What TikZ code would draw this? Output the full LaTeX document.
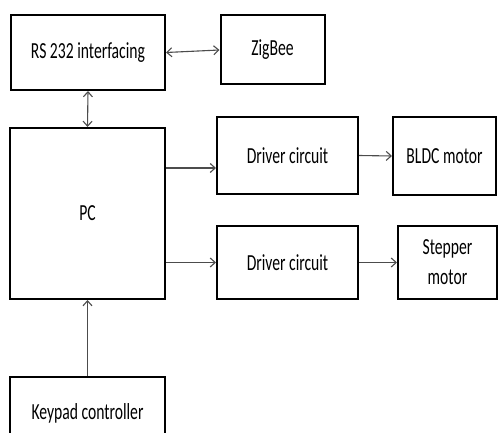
\documentclass[tikz,border=0pt]{standalone}
\usepackage{fontspec}
\setmainfont{Carlito}[FakeStretch=0.68]
\usepackage{tikz}
\usepackage{xcolor}
\usetikzlibrary{arrows.meta, positioning, calc}

\begin{document}
\begin{tikzpicture}[x=1pt, y=-1pt,
    block/.style={draw=black, line width=2pt, fill=white, inner sep=0pt, align=center,
        font=\fontsize{23}{30}\selectfont},
    link/.style={draw=black!70, line width=1.1pt, -{Straight Barb[length=5pt, width=9pt]}},
    duplex/.style={link, {Straight Barb[length=5pt, width=9pt]}-{Straight Barb[length=5pt, width=9pt]}}]
    \useasboundingbox (0,0) rectangle (498,433);
    \clip (0,0) rectangle (498,433);

    % Interface part
    \node[block, minimum width=154pt, minimum height=75pt] (rs) at (88, 52.5) {RS 232 interfacing};
    \node[block, minimum width=104pt, minimum height=69pt] (zig) at (272.5, 50) {ZigBee};

    % Main computer
    \node[block, minimum width=155pt, minimum height=171pt] (pc) at (87.5, 213.5) {PC};

    % Motor drive chains
    \node[block, minimum width=141pt, minimum height=77pt] (drv1) at (287.5, 155.5) {Driver circuit};
    \node[block, minimum width=103pt, minimum height=78pt] (bldc) at (444.5, 156) {BLDC motor};
    \node[block, minimum width=141pt, minimum height=73pt] (drv2) at (287.5, 262.5) {Driver circuit};
    \node[block, minimum width=99pt, minimum height=73pt] (step) at (447.5, 262.5) {Stepper\\motor};

    % Keypad (runs off the bottom)
    \node[block, minimum width=155pt, minimum height=72pt] (key) at (87.5, 413) {Keypad controller};

    % Connections
    \draw[duplex] (rs.east) -- (zig.west);
    \draw[duplex] (rs.south) -- (pc.north);
    \draw[link] ([yshift=-12.5pt]drv1.west -| pc.east) -- ([yshift=-12.5pt]drv1.west);
    \draw[link] (drv1.east) -- (bldc.west);
    \draw[link] (drv2.west -| pc.east) -- (drv2.west);
    \draw[link] (drv2.east) -- (step.west);
    \draw[link] (key.north) -- (pc.south);

\end{tikzpicture}
\end{document}
